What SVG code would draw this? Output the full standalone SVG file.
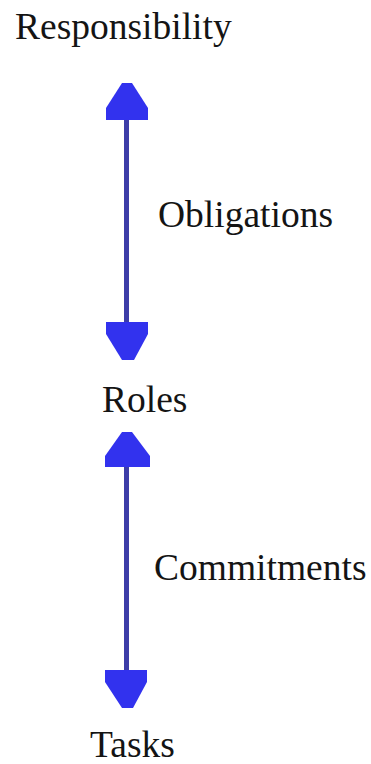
<svg xmlns="http://www.w3.org/2000/svg" width="371" height="764" viewBox="0 0 371 764">
  <style>
    .label { font-family: "Liberation Serif", "Times New Roman", serif; font-size: 37.5px; fill: #141414; }
    .shaft { stroke: #3d3da8; stroke-width: 5; fill: none; }
    .head { fill: #3232ee; }
  </style>
  <rect width="371" height="764" fill="#ffffff"/>

  <!-- double-headed connectors -->
  <g id="connectors">
    <g id="edge-responsibility-roles">
      <line class="shaft" x1="126.5" y1="118" x2="126.5" y2="324"/>
      <path class="head" d="M122,83 H132 L148,108 V120 H106 V108 Z"/>
      <path class="head" d="M106,322 H148 V334 L134,360 H122 L106,334 Z"/>
    </g>
    <g id="edge-roles-tasks">
      <line class="shaft" x1="126.5" y1="465" x2="126.5" y2="672"/>
      <path class="head" d="M122,432 H132 L150,456 V467 H105 V456 Z"/>
      <path class="head" d="M105,670 H147 V682 L133,708 H122 L105,682 Z"/>
    </g>
  </g>

  <g id="node-responsibility"><text class="label" x="15" y="39">Responsibility</text></g>
  <g id="label-obligations"><text class="label" x="158" y="227">Obligations</text></g>
  <g id="node-roles"><text class="label" x="102" y="412">Roles</text></g>
  <g id="label-commitments"><text class="label" x="154" y="580">Commitments</text></g>
  <g id="node-tasks"><text class="label" x="90" y="757">Tasks</text></g>
</svg>
